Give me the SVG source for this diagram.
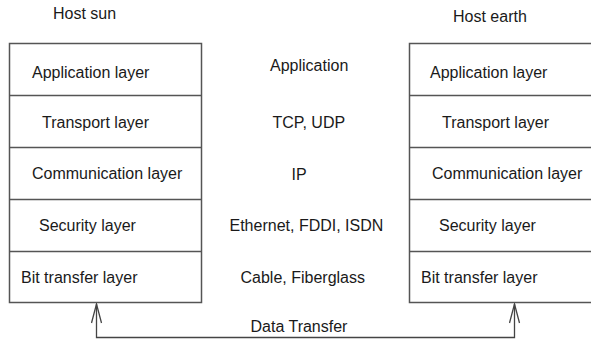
<svg xmlns="http://www.w3.org/2000/svg" width="591" height="339" viewBox="0 0 591 339">
<style>
  text { font-family: "Liberation Sans", Arial, sans-serif; font-size: 16px; fill: #1a1a1a; }
  .box { fill: none; stroke: #555; stroke-width: 1.5; }
  .div { stroke: #555; stroke-width: 1.5; }
  .conn { fill: none; stroke: #444; stroke-width: 1.3; }
</style>
<defs>
  <marker id="arr" viewBox="-20 -6 21 12" refX="0" refY="0" markerWidth="21" markerHeight="12" markerUnits="userSpaceOnUse" orient="auto-start-reverse">
    <path d="M-19,-5 L0,0 L-19,5" fill="none" stroke="#444" stroke-width="1.3"/>
  </marker>
</defs>
<rect width="591" height="339" fill="#fff"/>
<g id="host-sun">
  <text x="53" y="19">Host sun</text>
  <rect class="box" x="9.5" y="43.5" width="192" height="259"/>
  <line class="div" x1="9.5" y1="95.5" x2="201.5" y2="95.5"/>
  <line class="div" x1="9.5" y1="147.5" x2="201.5" y2="147.5"/>
  <line class="div" x1="9.5" y1="199.5" x2="201.5" y2="199.5"/>
  <line class="div" x1="9.5" y1="251.5" x2="201.5" y2="251.5"/>
  <text x="32" y="77.5">Application layer</text>
  <text x="42" y="128">Transport layer</text>
  <text x="32" y="178.5">Communication layer</text>
  <text x="39" y="231">Security layer</text>
  <text x="21" y="282.5">Bit transfer layer</text>
</g>
<g id="host-earth">
  <text x="453" y="22">Host earth</text>
  <rect class="box" x="409.5" y="43.5" width="192" height="259"/>
  <line class="div" x1="409.5" y1="95.5" x2="601.5" y2="95.5"/>
  <line class="div" x1="409.5" y1="147.5" x2="601.5" y2="147.5"/>
  <line class="div" x1="409.5" y1="199.5" x2="601.5" y2="199.5"/>
  <line class="div" x1="409.5" y1="251.5" x2="601.5" y2="251.5"/>
  <text x="430" y="77.5">Application layer</text>
  <text x="442" y="128">Transport layer</text>
  <text x="432" y="178.5">Communication layer</text>
  <text x="439" y="231">Security layer</text>
  <text x="421" y="282.5">Bit transfer layer</text>
</g>
<g id="protocols">
  <text x="270" y="71">Application</text>
  <text x="272.5" y="127.5">TCP, UDP</text>
  <text x="291.5" y="179.5">IP</text>
  <text x="229.5" y="231">Ethernet, FDDI, ISDN</text>
  <text x="240.5" y="282.5">Cable, Fiberglass</text>
</g>
<g id="connectors">
  <path class="conn" d="M96.5,304 V337.5 H514.5 V304" marker-start="url(#arr)" marker-end="url(#arr)"/>
  <text x="250.5" y="331.5">Data Transfer</text>
</g>
</svg>
